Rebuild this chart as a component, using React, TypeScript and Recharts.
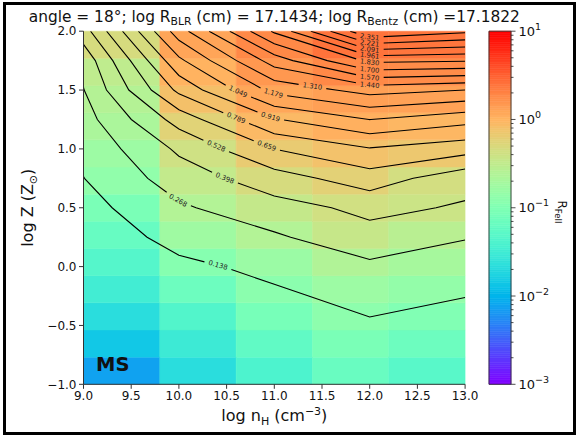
import React from "react";
import { ComposedChart, XAxis, YAxis, Line, ReferenceArea, Scatter } from "recharts";

// ---- data ----
const nH = [9, 10, 11, 12, 13];
const logZ = [-1, -0.75, -0.5, -0.25, 0, 0.25, 0.5, 0.75, 1, 1.25, 1.5, 1.75, 2];

// R_FeII on the (log nH, log Z) grid, one array per density column (rows follow logZ)
const rFeII_n9 = [0.0077, 0.014, 0.022, 0.033, 0.046, 0.064, 0.09, 0.136, 0.17, 0.215, 0.264, 0.31, 0.47];
const rFeII_n10 = [0.022, 0.03, 0.045, 0.07, 0.115, 0.175, 0.25, 0.332, 0.42, 0.58, 0.82, 1.02, 1.25];
const rFeII_n11 = [0.04, 0.058, 0.085, 0.12, 0.165, 0.25, 0.35, 0.47, 0.66, 0.91, 1.22, 1.5, 1.85];
const rFeII_n12 = [0.065, 0.09, 0.125, 0.17, 0.24, 0.355, 0.43, 0.6, 0.78, 1.05, 1.36, 1.86, 2.48];
const rFeII_n13 = [0.05, 0.07, 0.1, 0.14, 0.2, 0.275, 0.384, 0.442, 0.714, 0.963, 1.31, 1.84, 2.38];
const rFeIIGrid = [rFeII_n9, rFeII_n10, rFeII_n11, rFeII_n12, rFeII_n13];

const contourLevels = [0.138, 0.268, 0.398, 0.528, 0.659, 0.789, 0.919, 1.049, 1.179, 1.31, 1.44, 1.57, 1.7, 1.83, 1.961, 2.091, 2.221, 2.351];
// log nH at which each contour carries its inline label
const labelNH = [10.41, 9.99, 10.48, 10.39, 10.92, 10.6, 10.96, 10.62, 10.99, 11.4, 12, 12, 12, 12, 12, 12, 12, 12];

const xTicks = [9, 9.5, 10, 10.5, 11, 11.5, 12, 12.5, 13];
const yTicks = [-1, -0.5, 0, 0.5, 1, 1.5, 2];
const cbDecades = [-3, -2, -1, 0, 1];

// ---- layout ----
const W = 579;
const H = 437;
const PLOT = { left: 83.5, right: 465.1, top: 31.2, bottom: 384.3 };
const CB = { left: 489, right: 511 };
const FONT = "DejaVu Sans";
const X_DOMAIN: [number, number] = [9, 13];
const Y_DOMAIN: [number, number] = [-1, 2];
const CB_DOMAIN: [number, number] = [-3, 1]; // log10 R_FeII
const SX = (PLOT.right - PLOT.left) / (X_DOMAIN[1] - X_DOMAIN[0]);
const SZ = (PLOT.bottom - PLOT.top) / (Y_DOMAIN[1] - Y_DOMAIN[0]);

// matplotlib "rainbow" colormap, log-normalised between 1e-3 and 1e1
const clamp = (v: number) => Math.max(0, Math.min(1, v));
function rainbow(t: number): string {
  const q = Math.min(255, Math.max(0, Math.floor(clamp(t) * 256))) / 255;
  const r = clamp(Math.abs(2 * q - 0.5));
  const g = clamp(Math.sin(Math.PI * q));
  const b = clamp(Math.cos((Math.PI / 2) * q));
  return `rgb(${Math.round(r * 255)},${Math.round(g * 255)},${Math.round(b * 255)})`;
}
const normLog = (lg: number) => (lg - CB_DOMAIN[0]) / (CB_DOMAIN[1] - CB_DOMAIN[0]);
const colorFor = (v: number) => rainbow(normLog(Math.log10(v)));

// ---- heatmap cells ----
const cellW = (X_DOMAIN[1] - X_DOMAIN[0]) / nH.length;
const cellH = (Y_DOMAIN[1] - Y_DOMAIN[0]) / logZ.length;
const cells: { x1: number; x2: number; y1: number; y2: number; color: string }[] = [];
rFeIIGrid.forEach((col, i) =>
  col.forEach((v, j) => {
    cells.push({
      x1: X_DOMAIN[0] + i * cellW,
      x2: X_DOMAIN[0] + (i + 1) * cellW,
      y1: Y_DOMAIN[0] + j * cellH,
      y2: Y_DOMAIN[0] + (j + 1) * cellH,
      color: colorFor(v),
    });
  })
);

// ---- marching squares ----
type Pt = { x: number; y: number };
function traceContours(level: number): Pt[][] {
  const nx = nH.length;
  const nz = logZ.length;
  const val = (i: number, j: number) => rFeIIGrid[i][j];
  const pts = new Map<string, Pt>();
  const adj = new Map<string, string[]>();
  const below = (v: number) => v < level;
  const edge = (kind: "h" | "v", i: number, j: number): string => {
    const key = `${kind}:${i}:${j}`;
    if (!pts.has(key)) {
      const a = val(i, j);
      const b = kind === "h" ? val(i + 1, j) : val(i, j + 1);
      const t = (level - a) / (b - a);
      const x0 = nH[i];
      const z0 = logZ[j];
      const x1 = kind === "h" ? nH[i + 1] : nH[i];
      const z1 = kind === "h" ? logZ[j] : logZ[j + 1];
      pts.set(key, { x: x0 + t * (x1 - x0), y: z0 + t * (z1 - z0) });
    }
    return key;
  };
  const link = (a: string, b: string) => {
    if (!adj.has(a)) adj.set(a, []);
    if (!adj.has(b)) adj.set(b, []);
    adj.get(a)!.push(b);
    adj.get(b)!.push(a);
  };
  for (let i = 0; i < nx - 1; i++) {
    for (let j = 0; j < nz - 1; j++) {
      const v00 = val(i, j), v10 = val(i + 1, j), v01 = val(i, j + 1), v11 = val(i + 1, j + 1);
      const bottom = below(v00) !== below(v10) ? edge("h", i, j) : null;
      const right = below(v10) !== below(v11) ? edge("v", i + 1, j) : null;
      const top = below(v01) !== below(v11) ? edge("h", i, j + 1) : null;
      const left = below(v00) !== below(v01) ? edge("v", i, j) : null;
      const e = [bottom, right, top, left].filter((k) => k !== null) as string[];
      if (e.length === 2) link(e[0], e[1]);
      else if (e.length === 4) {
        const centre = (v00 + v10 + v01 + v11) / 4;
        if (below(v00) === below(centre)) {
          link(bottom!, right!);
          link(top!, left!);
        } else {
          link(bottom!, left!);
          link(right!, top!);
        }
      }
    }
  }
  const used = new Set<string>();
  const lines: Pt[][] = [];
  const walk = (start: string) => {
    const path = [start];
    used.add(start);
    let cur = start;
    for (;;) {
      const next = (adj.get(cur) || []).find((n) => !used.has(n));
      if (!next) break;
      used.add(next);
      path.push(next);
      cur = next;
    }
    lines.push(path.map((k) => pts.get(k)!));
  };
  for (const [k, n] of adj) if (n.length === 1 && !used.has(k)) walk(k);
  for (const k of adj.keys()) if (!used.has(k)) walk(k);
  return lines;
}

// ---- inline labels: split each contour around its label ----
const LABEL_FONT = 6.8;
const LABEL_GAP = 28;
type LabelPt = { x: number; y: number; text: string; angle: number };
const contourPieces: Pt[][] = [];
const contourLabels: LabelPt[] = [];

contourLevels.forEach((level, k) => {
  const lines = traceContours(level);
  const lx = labelNH[k];
  let labelled = false;
  lines.forEach((line) => {
    if (labelled) {
      contourPieces.push(line);
      return;
    }
    let seg = -1;
    for (let s = 0; s < line.length - 1; s++) {
      if ((line[s].x - lx) * (line[s + 1].x - lx) <= 0 && line[s].x !== line[s + 1].x) {
        seg = s;
        break;
      }
    }
    if (seg < 0) {
      contourPieces.push(line);
      return;
    }
    labelled = true;
    const px = line.map((p) => ({ X: p.x * SX, Y: p.y * SZ }));
    const cum = [0];
    for (let s = 1; s < px.length; s++) cum.push(cum[s - 1] + Math.hypot(px[s].X - px[s - 1].X, px[s].Y - px[s - 1].Y));
    const a = line[seg], b = line[seg + 1];
    const t = (lx - a.x) / (b.x - a.x);
    const s0 = cum[seg] + t * (cum[seg + 1] - cum[seg]);
    const at = (s: number): Pt => {
      const ss = Math.max(0, Math.min(cum[cum.length - 1], s));
      let i = 0;
      while (i < cum.length - 2 && cum[i + 1] < ss) i++;
      const f = cum[i + 1] === cum[i] ? 0 : (ss - cum[i]) / (cum[i + 1] - cum[i]);
      return { x: line[i].x + f * (line[i + 1].x - line[i].x), y: line[i].y + f * (line[i + 1].y - line[i].y) };
    };
    const sA = s0 - LABEL_GAP / 2;
    const sB = s0 + LABEL_GAP / 2;
    const pA = at(sA), pB = at(sB);
    const first: Pt[] = line.filter((_, i) => cum[i] < sA);
    if (first.length) contourPieces.push([...first, pA]);
    const second: Pt[] = line.filter((_, i) => cum[i] > sB);
    if (second.length) contourPieces.push([pB, ...second]);
    let ang = (Math.atan2((pB.y - pA.y) * SZ, (pB.x - pA.x) * SX) * 180) / Math.PI;
    if (ang > 90) ang -= 180;
    if (ang < -90) ang += 180;
    const c = at(s0);
    contourLabels.push({ x: c.x, y: c.y, text: level.toFixed(3), angle: -ang });
  });
});

// ---- colorbar (vertical axis in log10 units) ----
const CB_STEPS = 160;
const cbSlices = Array.from({ length: CB_STEPS }, (_, k) => {
  const y1 = CB_DOMAIN[0] + ((CB_DOMAIN[1] - CB_DOMAIN[0]) * k) / CB_STEPS;
  const y2 = CB_DOMAIN[0] + ((CB_DOMAIN[1] - CB_DOMAIN[0]) * (k + 1)) / CB_STEPS;
  return { x: 0.5, y: (y1 + y2) / 2, y1, y2, color: rainbow((k + 0.5) / CB_STEPS) };
});
const cbTicks: number[] = [];
cbDecades.forEach((d) => {
  cbTicks.push(d);
  if (d < CB_DOMAIN[1]) for (let m = 2; m <= 9; m++) cbTicks.push(d + Math.log10(m));
});

const ContourLabel = (props: any) => {
  const { cx, cy, payload } = props;
  if (cx == null || cy == null) return null;
  return (
    <text
      x={cx}
      y={cy}
      transform={`rotate(${payload.angle} ${cx} ${cy})`}
      textAnchor="middle"
      dominantBaseline="central"
      fontSize={LABEL_FONT}
      fontFamily={FONT}
      fill="#222"
    >
      {payload.text}
    </text>
  );
};

const ColorbarTick = (props: any) => {
  const { x, y, payload } = props;
  const lg = payload.value;
  const e = Math.round(lg);
  const major = Math.abs(lg - e) < 1e-6;
  const len = major ? 4.5 : 2.5;
  return (
    <g>
      <line x1={x} x2={x + len} y1={y} y2={y} stroke="#222" strokeWidth={0.8} />
      {major && (
        <text x={x + len + 3} y={y} dy="0.36em" fontSize={13} fontFamily={FONT} fill="#111">
          10
          <tspan dy={-6} fontSize={9.5}>
            {e < 0 ? "\u2212" + -e : String(e)}
          </tspan>
        </text>
      )}
    </g>
  );
};

const fmtTick = (v: number) => (v < 0 ? "\u2212" + (-v).toFixed(1) : v.toFixed(1));
const Y_AXIS_W = 50;
const X_AXIS_H = 30;
const CB_AXIS_W = 40;

export default function App() {
  return (
    <div style={{ position: "absolute", left: 0, top: 0, width: W, height: H, background: "#fff", fontFamily: FONT }}>
      <div style={{ position: "absolute", left: 0, top: 0 }}>
        <ComposedChart
          width={W}
          height={H}
          margin={{
            top: PLOT.top,
            right: W - PLOT.right,
            left: PLOT.left - Y_AXIS_W,
            bottom: H - PLOT.bottom - X_AXIS_H,
          }}
        >
          {cells.map((c, i) => (
            <ReferenceArea
              key={`cell-${i}`}
              x1={c.x1}
              x2={c.x2}
              y1={c.y1}
              y2={c.y2}
              fill={c.color}
              fillOpacity={1}
              stroke={c.color}
              strokeWidth={0.5}
              ifOverflow="visible"
            />
          ))}
          {contourPieces.map((piece, i) => (
            <Line
              key={`ct-${i}`}
              data={piece}
              dataKey="y"
              type="linear"
              stroke="#000"
              strokeWidth={1.1}
              dot={false}
              activeDot={false}
              isAnimationActive={false}
              legendType="none"
            />
          ))}
          <Scatter data={contourLabels} dataKey="y" shape={ContourLabel} isAnimationActive={false} legendType="none" />
          <XAxis
            type="number"
            dataKey="x"
            domain={X_DOMAIN}
            ticks={xTicks}
            interval={0}
            allowDataOverflow
            height={X_AXIS_H}
            tickSize={4.5}
            tickMargin={3}
            tickFormatter={fmtTick}
            tick={{ fontSize: 12, fill: "#111", fontFamily: FONT }}
            stroke="#333"
          />
          <YAxis
            type="number"
            domain={Y_DOMAIN}
            ticks={yTicks}
            interval={0}
            allowDataOverflow
            width={Y_AXIS_W}
            tickSize={4.5}
            tickMargin={2.5}
            tickFormatter={fmtTick}
            tick={{ fontSize: 12, fill: "#111", fontFamily: FONT }}
            stroke="#333"
          />
          <XAxis xAxisId="top" orientation="top" type="number" domain={X_DOMAIN} allowDataOverflow height={0} tick={false} tickLine={false} stroke="#333" />
          <YAxis yAxisId="right" orientation="right" type="number" domain={Y_DOMAIN} allowDataOverflow width={0} tick={false} tickLine={false} stroke="#333" />
        </ComposedChart>
      </div>

      <div style={{ position: "absolute", left: 0, top: 0 }}>
        <ComposedChart
          width={W}
          height={H}
          data={cbSlices}
          margin={{ top: PLOT.top, right: W - CB.right - CB_AXIS_W, left: CB.left, bottom: H - PLOT.bottom }}
        >
          {cbSlices.map((s, i) => (
            <ReferenceArea
              key={`cb-${i}`}
              x1={0}
              x2={1}
              y1={s.y1}
              y2={s.y2}
              fill={s.color}
              fillOpacity={1}
              stroke={s.color}
              strokeWidth={0.6}
              ifOverflow="visible"
            />
          ))}
          <Line dataKey="y" stroke="none" dot={false} activeDot={false} isAnimationActive={false} legendType="none" />
          <ReferenceArea x1={0} x2={1} y1={CB_DOMAIN[0]} y2={CB_DOMAIN[1]} fill="none" fillOpacity={0} stroke="#333" strokeWidth={0.9} ifOverflow="visible" />
          <XAxis type="number" dataKey="x" domain={[0, 1]} allowDataOverflow hide />
          <YAxis
            orientation="right"
            type="number"
            domain={CB_DOMAIN}
            ticks={cbTicks}
            interval={0}
            allowDataOverflow
            width={CB_AXIS_W}
            axisLine={false}
            tickLine={false}
            tickSize={0}
            tickMargin={0}
            tick={<ColorbarTick />}
          />
        </ComposedChart>
      </div>

      <svg width={W} height={H} style={{ position: "absolute", left: 0, top: 0, pointerEvents: "none" }}>
        <rect x={4.5} y={3.5} width={570} height={430} fill="none" stroke="#000" strokeWidth={3} />
        <text x={(PLOT.left + PLOT.right) / 2} y={21.5} textAnchor="middle" fontSize={15.4} fontFamily={FONT} fill="#111">
          angle = 18°; log R<tspan dy={3.2} fontSize={10.8}>BLR</tspan>
          <tspan dy={-3.2}> (cm) = 17.1434; log R</tspan>
          <tspan dy={3.2} fontSize={10.8}>Bentz</tspan>
          <tspan dy={-3.2}> (cm) =17.1822</tspan>
        </text>
        <text x={(PLOT.left + PLOT.right) / 2} y={421} textAnchor="middle" fontSize={16} fontFamily={FONT} fill="#111">
          log n<tspan dy={3.5} fontSize={11}>H</tspan>
          <tspan dy={-3.5}> (cm</tspan>
          <tspan dy={-6} fontSize={11}>−3</tspan>
          <tspan dy={6}>)</tspan>
        </text>
        <text
          x={0}
          y={0}
          transform={`translate(33 ${(PLOT.top + PLOT.bottom) / 2}) rotate(-90)`}
          textAnchor="middle"
          fontSize={16}
          fontFamily={FONT}
          fill="#111"
        >
          log Z (Z<tspan dy={3.5} fontSize={11}>⊙</tspan>
          <tspan dy={-3.5}>)</tspan>
        </text>
        <text x={0} y={0} transform="translate(558 212) rotate(90)" textAnchor="middle" fontSize={12} fontFamily={FONT} fill="#111">
          R<tspan dy={3} fontSize={8.5}>FeII</tspan>
        </text>
        <text x={96} y={371} fontSize={19.5} fontWeight="bold" fontFamily={FONT} fill="#111">
          MS
        </text>
      </svg>
    </div>
  );
}
